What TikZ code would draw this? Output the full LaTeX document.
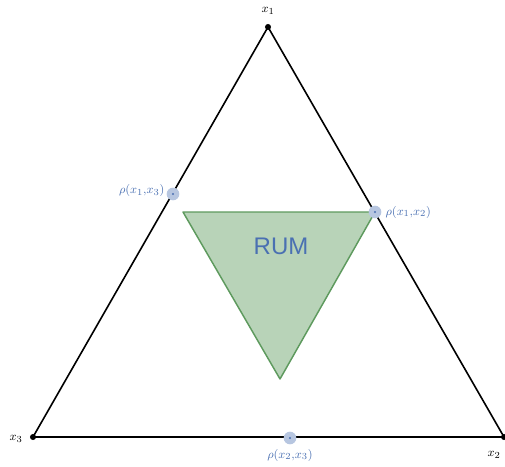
\documentclass[tikz,border=0pt]{standalone}
\usepackage{amsmath}
\usepackage{fontspec}
\newfontfamily\rumfont{Liberation Sans}
\definecolor{rhoblue}{HTML}{4A70B2}
\definecolor{rumfill}{HTML}{B8D3B8}
\definecolor{rumline}{HTML}{5E9A5E}

\begin{document}
\begin{tikzpicture}[
  x=0.75pt, y=-0.75pt,
  vertex/.style={circle,fill,inner sep=1.6pt},  pdot/.style={circle,fill=rhoblue!40,inner sep=0pt,minimum size=9.5pt,path picture={\fill[rhoblue] (path picture bounding box.center) circle (0.9pt);}},  vlabel/.style={font=\fontsize{9.5}{11}\selectfont,inner sep=1pt},  plabel/.style={font=\fontsize{9.5}{11}\selectfont,text=rhoblue,inner sep=1pt}
]
  \useasboundingbox (0,0) rectangle (505,466);
  % vertices of the simplex
  \node[vertex] (x1) at (268,27) {};
  \node[vertex] (x2) at (504,437) {};
  \node[vertex] (x3) at (33,437) {};
  \node[vlabel] (l1) at (268,11) {$x_1$};
  \node[vlabel] (l2) at (494,455) {$x_2$};
  \node[vlabel] (l3) at (16,439) {$x_3$};
  % RUM region
  \coordinate (r1) at (183,212);
  \coordinate (r2) at (375,212);
  \coordinate (r3) at (280,379);
  \draw[rumline,fill=rumfill,line width=1.1pt,line join=round] (r1) -- (r2) -- (r3) -- cycle;
  \node[text=rhoblue,font=\rumfont\fontsize{18}{21}\selectfont] (rum) at (281,246) {RUM};
  % edges
  \draw[line width=1.2pt] (x1.center) -- (x2.center) -- (x3.center) -- cycle;
  % binary choice points
  \node[pdot] (p13) at (173,194) {};
  \node[pdot] (p12) at (r2) {};
  \node[pdot] (p23) at (290,438) {};
  \node[plabel,anchor=east] (q13) at (166,191) {$\rho(x_1{,}x_3)$};
  \node[plabel,anchor=west] (q12) at (384,212) {$\rho(x_1{,}x_2)$};
  \node[plabel] (q23) at (290,455) {$\rho(x_2{,}x_3)$};
\end{tikzpicture}
\end{document}
